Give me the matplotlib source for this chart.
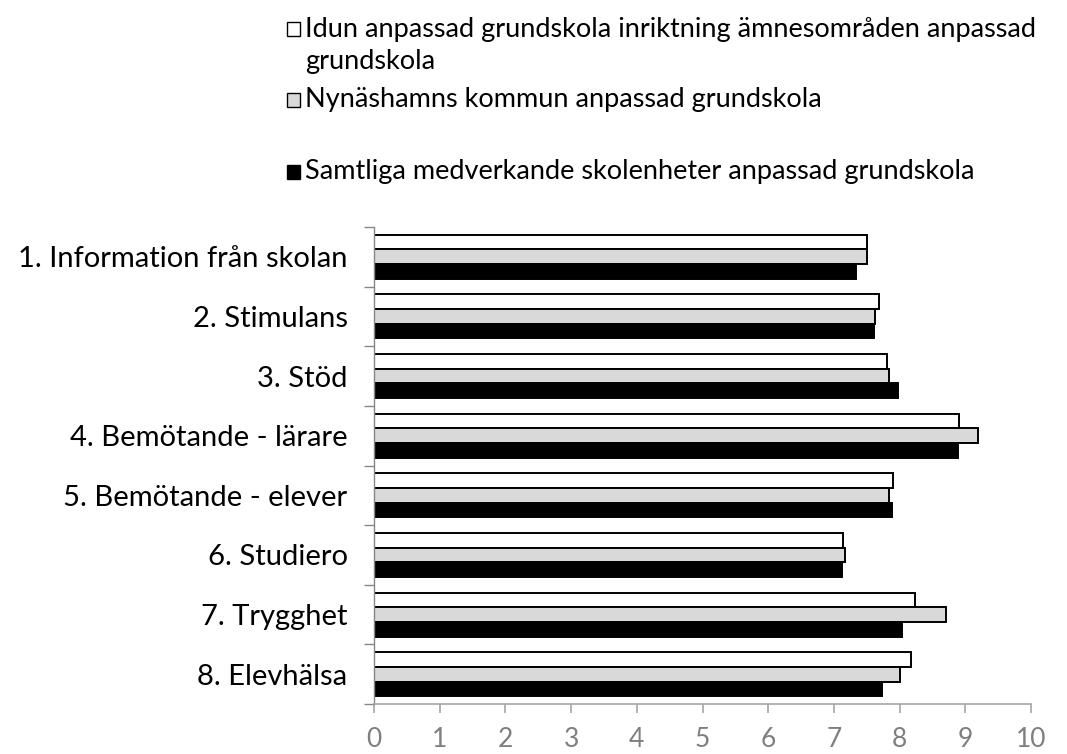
import matplotlib
matplotlib.use("Agg")
import matplotlib.pyplot as plt
from matplotlib.patches import Rectangle
import numpy as np

categories = ["1. Information från skolan", "2. Stimulans", "3. Stöd",
              "4. Bemötande - lärare", "5. Bemötande - elever", "6. Studiero",
              "7. Trygghet", "8. Elevhälsa"]
series_names = ["Idun anpassad grundskola inriktning ämnesområden anpassad\ngrundskola",
                "Nynäshamns kommun anpassad grundskola",
                "Samtliga medverkande skolenheter anpassad grundskola"]
idun = [7.51, 7.69, 7.81, 8.91, 7.90, 7.14, 8.24, 8.18]
nynashamn = [7.51, 7.63, 7.84, 9.20, 7.84, 7.17, 8.70, 8.00]
samtliga = [7.34, 7.61, 7.98, 8.89, 7.88, 7.13, 8.04, 7.73]
x_ticks = list(range(0, 11))

plt.rcParams['font.family'] = ['Lato', 'DejaVu Sans']

W, H = 1067, 754
fig = plt.figure(figsize=(W / 100, H / 100), dpi=100)
ax = fig.add_axes([374 / W, 1 - 704 / H, (1031 - 374) / W, (704 - 227) / H])

n = len(categories)
y = np.arange(n)
h = 0.246
fills = ["white", "#d9d9d9", "black"]
data = [idun, nynashamn, samtliga]
offsets = [-h, 0, h]
for vals, fc, off in zip(data, fills, offsets):
    ax.barh(y + off, vals, height=h, color=fc, edgecolor="black", linewidth=1.4)

ax.set_xlim(0, 10)
ax.set_ylim(n - 0.5, -0.5)
ax.set_xticks(x_ticks)
ax.set_xticklabels([str(t) for t in x_ticks], color="#7f7f7f", fontsize=19)
ax.tick_params(axis="x", length=6.5, color="#a6a6a6", pad=10, width=1.2)

ax.set_yticks(np.arange(n + 1) - 0.5)
ax.set_yticklabels([])
ax.set_yticks(y, minor=True)
ax.set_yticklabels(categories, minor=True, fontsize=21)
ax.tick_params(axis="y", which="major", length=7, color="#868686", width=1)
ax.tick_params(axis="y", which="minor", length=0, pad=19)

for s in ["top", "right"]:
    ax.spines[s].set_visible(False)
ax.spines["left"].set_color("#868686")
ax.spines["bottom"].set_color("#a6a6a6")
ax.spines["left"].set_linewidth(1)
ax.spines["bottom"].set_linewidth(1.2)

# legend (manual, Excel-like layout)
line_rows = [[29, 62], [100], [172]]
for name, fc, rows in zip(series_names, fills, line_rows):
    yy = rows[0]
    fig.patches.append(Rectangle((287 / W, 1 - (yy + 6.5) / H), 13 / W, 13 / H,
                                 transform=fig.transFigure,
                                 facecolor=fc, edgecolor="black", linewidth=1))
    for line, ly in zip(name.split("\n"), rows):
        fig.text(305 / W, 1 - ly / H, line, fontsize=19.5, va="center", ha="left")

fig.savefig("out.png", dpi=100)
